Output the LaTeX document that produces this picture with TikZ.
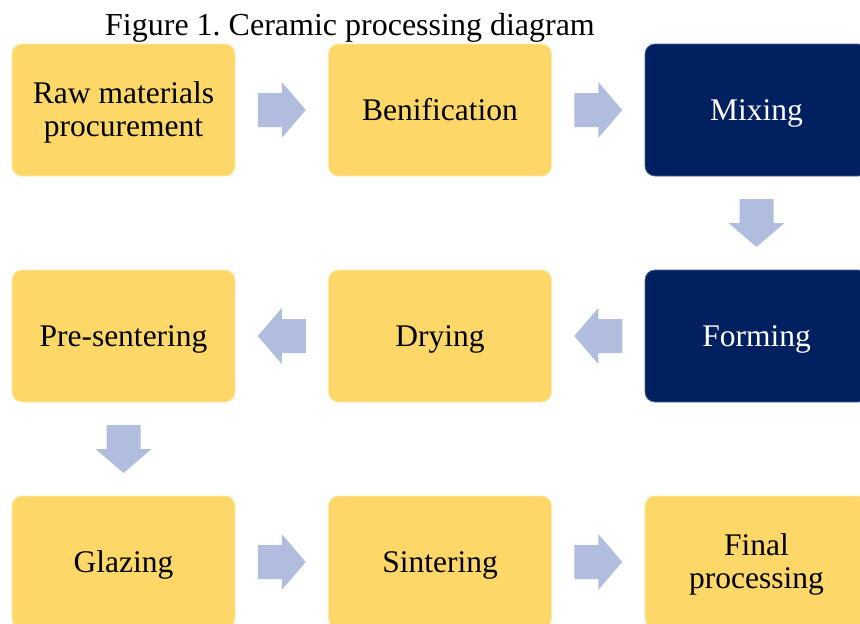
\documentclass[tikz,border=0pt]{standalone}
\usepackage{fontspec}
\setmainfont{Liberation Serif}
\frenchspacing
\usetikzlibrary{calc}
\definecolor{boxyellow}{HTML}{FDD868}
\definecolor{boxnavy}{HTML}{002060}
\definecolor{arrowblue}{HTML}{B0BDDF}
\tikzset{
  stepbox/.style={rectangle, rounded corners=10pt, minimum width=223pt, minimum height=132pt,
    inner sep=0pt, align=center, font=\fontsize{31.5}{33}\selectfont, line width=0.8pt,
    text height=27pt, text depth=7pt},
  twoline/.style={text height=59pt, text depth=7pt},
  yellowbox/.style={stepbox, fill=boxyellow, draw=boxyellow!60!white, text=black},
  navybox/.style={stepbox, fill=boxnavy, draw=boxnavy!70!white, text=white},
  flowarrow/.style={fill=arrowblue, draw=none},
  pics/blockarrow/.style={code={
    \fill[flowarrow] (-24,-17) -- (0,-17) -- (0,-28) -- (24,0) -- (0,28) -- (0,17) -- (-24,17) -- cycle;
  }}
}
\begin{document}
\begin{tikzpicture}[x=1pt,y=-1pt]
\useasboundingbox (0,0) rectangle (860,624);
\node[anchor=base, font=\fontsize{32}{34}\selectfont] (title) at (350,35) {Figure 1. Ceramic processing diagram};
\node[yellowbox, twoline] (raw) at (123.5,110) {Raw materials\\procurement};
\node[yellowbox] (ben) at (440,110) {Benification};
\node[navybox] (mix) at (756.5,110) {Mixing};
\node[navybox] (form) at (756.5,336) {Forming};
\node[yellowbox] (dry) at (440,336) {Drying};
\node[yellowbox] (pre) at (123.5,336) {Pre-sentering};
\node[yellowbox] (glaze) at (123.5,562) {Glazing};
\node[yellowbox] (sint) at (440,562) {Sintering};
\node[yellowbox, twoline] (final) at (756.5,562) {Final\\processing};
\coordinate (a1) at ($(raw.east)!0.5!(ben.west)$);
\coordinate (a2) at ($(ben.east)!0.5!(mix.west)$);
\coordinate (a3) at ($(mix.south)!0.5!(form.north)$);
\coordinate (a4) at ($(form.west)!0.5!(dry.east)$);
\coordinate (a5) at ($(dry.west)!0.5!(pre.east)$);
\coordinate (a6) at ($(pre.south)!0.5!(glaze.north)$);
\coordinate (a7) at ($(glaze.east)!0.5!(sint.west)$);
\coordinate (a8) at ($(sint.east)!0.5!(final.west)$);
\pic at (a1) {blockarrow};
\pic at (a2) {blockarrow};
\pic[rotate=-90] at (a3) {blockarrow};
\pic[rotate=180] at (a4) {blockarrow};
\pic[rotate=180] at (a5) {blockarrow};
\pic[rotate=-90] at (a6) {blockarrow};
\pic at (a7) {blockarrow};
\pic at (a8) {blockarrow};
\end{tikzpicture}
\end{document}
